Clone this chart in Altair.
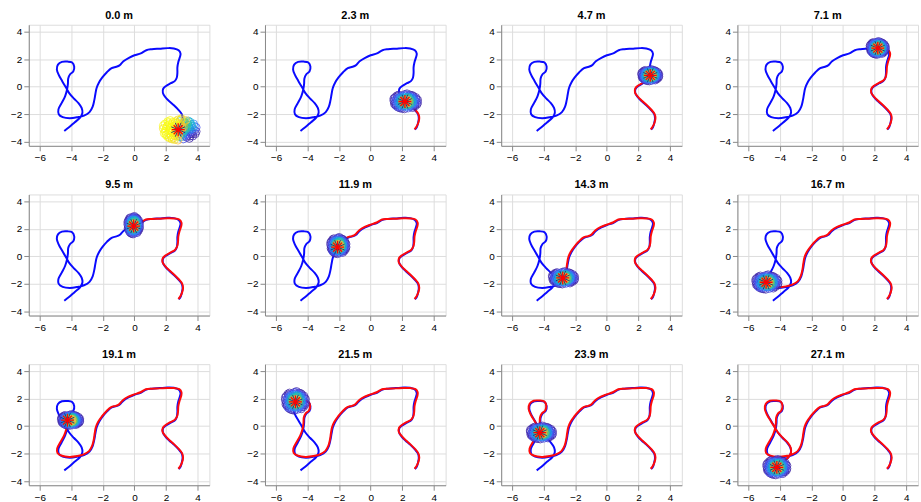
import altair as alt
import pandas as pd

# travelled distance shown above each panel
DIST = [0.0, 2.3, 4.7, 7.1, 9.5, 11.9, 14.3, 16.7, 19.1, 21.5, 23.9, 27.1]

# ground-truth trajectory (m)
TRUE_X = [2.80, 2.92, 3.00, 3.05, 3.00, 2.80, 2.50, 2.20, 1.95, 1.80, 1.82, 2.00, 2.30, 2.55,
          2.68, 2.72, 2.72, 2.78, 2.88, 2.92, 2.80, 2.50, 2.10, 1.60, 1.10, 0.75, 0.40, 0.00,
          -0.35, -0.70, -0.95, -1.15, -1.45, -1.75, -2.05, -2.25, -2.40, -2.48, -2.55, -2.65,
          -2.85, -3.20, -3.60, -4.10, -4.55, -4.80, -4.82, -4.62, -4.40, -4.28, -4.22, -4.20,
          -4.08, -3.88, -3.82, -3.95, -4.25, -4.60, -4.85, -4.92, -4.80, -4.58, -4.35, -4.15,
          -3.85, -3.55, -3.35, -3.30, -3.45, -3.80, -4.15, -4.45]
TRUE_Y = [-3.12, -2.95, -2.65, -2.30, -2.00, -1.70, -1.35, -1.05, -0.75, -0.45, -0.15, 0.05,
          0.25, 0.40, 0.65, 1.00, 1.40, 1.80, 2.15, 2.40, 2.65, 2.78, 2.80, 2.76, 2.72, 2.65,
          2.42, 2.28, 2.10, 1.85, 1.55, 1.45, 1.35, 1.05, 0.65, 0.30, -0.10, -0.55, -1.00,
          -1.45, -1.85, -2.10, -2.22, -2.30, -2.22, -2.00, -1.65, -1.20, -0.70, -0.25, 0.20,
          0.60, 0.90, 1.10, 1.45, 1.75, 1.82, 1.80, 1.60, 1.25, 0.85, 0.40, -0.05, -0.45,
          -0.85, -1.20, -1.55, -1.90, -2.25, -2.60, -2.95, -3.22]

# estimated trajectory (m)
EST_X = [2.78, 2.90, 3.02, 3.08, 3.02, 2.82, 2.52, 2.22, 1.96, 1.78, 1.80, 1.98, 2.28, 2.55,
         2.70, 2.76, 2.78, 2.86, 2.96, 2.98, 2.84, 2.50, 2.10, 1.60, 1.10, 0.72, 0.38, -0.02,
         -0.38, -0.72, -0.98, -1.18, -1.48, -1.78, -2.08, -2.30, -2.45, -2.52, -2.58, -2.68,
         -2.88, -3.22, -3.62, -4.12, -4.60, -4.88, -4.90, -4.70, -4.46, -4.32, -4.26, -4.24,
         -4.12, -3.92, -3.84, -3.96, -4.28, -4.64, -4.90, -4.96, -4.82, -4.58, -4.34, -4.12,
         -3.80, -3.50, -3.32, -3.30, -3.48, -3.82, -4.18]
EST_Y = [-3.10, -2.92, -2.62, -2.28, -1.98, -1.68, -1.33, -1.02, -0.72, -0.42, -0.12, 0.08,
         0.28, 0.45, 0.70, 1.05, 1.45, 1.85, 2.18, 2.45, 2.68, 2.76, 2.77, 2.74, 2.72, 2.68,
         2.46, 2.30, 2.14, 1.90, 1.58, 1.47, 1.38, 1.08, 0.68, 0.32, -0.08, -0.52, -0.98,
         -1.42, -1.82, -2.06, -2.18, -2.24, -2.16, -1.95, -1.62, -1.18, -0.68, -0.22, 0.22,
         0.62, 0.92, 1.12, 1.46, 1.78, 1.86, 1.84, 1.62, 1.24, 0.82, 0.36, -0.08, -0.48,
         -0.88, -1.22, -1.58, -1.92, -2.28, -2.62, -2.98]

# filter estimate (asterisk) for each panel
STAR_X = [2.77, 2.17, 2.75, 2.20, -0.05, -2.10, -2.80, -4.88, -4.25, -4.77, -4.25, -4.20]
STAR_Y = [-3.13, -1.08, 0.82, 2.80, 2.20, 0.67, -1.57, -1.88, 0.43, 1.76, -0.48, -3.00]

# particle cloud extent and shift per panel (m)
SPREAD_X = [1.10, 0.80, 0.58, 0.52, 0.40, 0.52, 0.75, 0.75, 0.62, 0.68, 0.75, 0.68]
SPREAD_Y = [0.85, 0.60, 0.46, 0.52, 0.70, 0.65, 0.50, 0.58, 0.44, 0.75, 0.52, 0.62]
SHIFT_X = [0.10, 0.05, 0.00, 0.00, 0.00, 0.05, 0.05, 0.05, 0.20, 0.00, 0.10, 0.00]
SHIFT_Y = [0.00, 0.00, 0.00, 0.00, 0.05, 0.10, 0.00, 0.00, 0.00, 0.05, 0.00, 0.00]

# particle layout (unit cloud) and weights
PART_DX = [0.00, 0.35, -0.30, 0.10, -0.15, 0.55, -0.60, 0.20, -0.45, 0.70, -0.75, 0.40, -0.35,
           0.85, -0.90, 0.05, -0.10, 0.60, -0.65, 0.75, -0.70, 0.25, -0.20, 0.45, -0.50, 0.15,
           -0.05, 0.30, -0.40, 0.95, -0.95, 0.10, 0.00, 0.50, -0.25, 0.65, -0.80, 0.35, -0.55,
           0.80, -0.30, 0.20, 0.90, -0.85, 0.15, -0.10, 0.40, -0.25, 0.05, 0.60, -0.65, 0.30,
           -0.15, 0.75, -0.45, 0.55, -0.70, 0.25, -0.35, 0.45,
           0.10, -0.35, 0.50, -0.55, 0.20, -0.20, 0.65, -0.60, 0.00, -0.05, 0.35, -0.45, 0.55,
           -0.30, 0.70, -0.80, 0.40, -0.10, 0.15, -0.60, 0.85, -0.85, 0.25, -0.25, 0.05, 0.45,
           -0.40, 0.60, -0.50, 0.30, 0.10, -0.15, 0.75, -0.75, 0.20, -0.30, 0.50, -0.70, 0.95,
           -0.95]
PART_DY = [0.00, 0.10, 0.20, -0.40, -0.25, -0.20, -0.10, 0.55, 0.45, 0.30, 0.25, -0.65, -0.70,
           -0.05, -0.30, 0.85, -0.90, 0.65, 0.60, -0.55, -0.60, 0.25, 0.40, -0.35, -0.45, -0.15,
           0.30, -0.05, 0.05, 0.20, 0.10, 0.95, -0.60, 0.40, 0.70, -0.35, -0.45, 0.80, 0.80,
           0.50, -0.50, -0.80, -0.35, 0.50, 0.15, -0.05, 0.25, -0.15, 0.50, 0.05, -0.25, -0.50,
           0.60, 0.10, -0.80, -0.75, 0.35, 0.70, 0.30, 0.60,
           0.35, -0.35, -0.05, 0.20, -0.30, 0.15, 0.45, -0.70, 0.70, -0.40, -0.25, -0.20, 0.20,
           0.55, -0.20, 0.05, 0.45, 0.85, -0.60, 0.45, 0.30, -0.15, 0.00, 0.00, 0.15, -0.50,
           0.65, -0.55, -0.60, 0.60, -0.20, -0.55, -0.35, -0.40, 0.40, -0.85, 0.75, 0.70, -0.15,
           0.35]
W_INIT = [0.95, 0.50, 1.00, 0.30, 0.90, 0.15, 1.00, 0.60, 0.95, 0.35, 1.00, 0.05, 0.90, 0.10,
          0.95, 0.85, 0.80, 0.40, 1.00, 0.02, 0.95, 0.60, 0.95, 0.10, 1.00, 0.45, 0.90, 0.35,
          1.00, 0.15, 0.90, 0.90, 0.50, 0.40, 0.90, 0.05, 0.95, 0.70, 0.95, 0.30, 0.85, 0.10,
          0.03, 1.00, 0.70, 0.90, 0.45, 0.95, 0.80, 0.20, 1.00, 0.08, 0.90, 0.20, 0.90, 0.03,
          1.00, 0.60, 1.00, 0.50,
          0.60, 0.95, 0.20, 1.00, 0.35, 0.90, 0.40, 0.90, 0.50, 0.70, 0.10, 1.00, 0.35, 0.95,
          0.05, 1.00, 0.45, 0.85, 0.20, 1.00, 0.25, 0.95, 0.40, 0.95, 0.75, 0.03, 0.95, 0.02,
          0.90, 0.50, 0.50, 0.85, 0.02, 1.00, 0.55, 0.90, 0.35, 1.00, 0.05, 1.00]
W_RUN = [0.60, 0.50, 0.50, 0.45, 0.55, 0.30, 0.25, 0.35, 0.20, 0.15, 0.12, 0.14, 0.14, 0.08,
         0.05, 0.08, 0.06, 0.04, 0.05, 0.03, 0.07, 0.55, 0.40, 0.25, 0.22, 0.65, 0.50, 0.45,
         0.35, 0.03, 0.03, 0.05, 0.30, 0.25, 0.16, 0.16, 0.06, 0.06, 0.03, 0.05, 0.27, 0.09,
         0.02, 0.03, 0.70, 0.65, 0.40, 0.50, 0.35, 0.27, 0.16, 0.20, 0.25, 0.12, 0.05, 0.03,
         0.09, 0.14, 0.40, 0.12,
         0.50, 0.35, 0.35, 0.25, 0.55, 0.60, 0.09, 0.03, 0.16, 0.50, 0.45, 0.35, 0.25, 0.20,
         0.14, 0.07, 0.25, 0.05, 0.22, 0.11, 0.03, 0.05, 0.65, 0.60, 0.75, 0.16, 0.09, 0.06,
         0.07, 0.16, 0.70, 0.27, 0.05, 0.05, 0.45, 0.03, 0.03, 0.02, 0.02, 0.02]

PARULA = ["#3e26a8", "#4750ef", "#2d87f7", "#12b1d6", "#37c897", "#abc739", "#fec338",
          "#f5e21a", "#f9fb15"]

X_DOM = [-6.7, 4.75]
Y_DOM = [-4.3, 4.5]
PANEL_W, PANEL_H = 182, 122

ASTERISK = "M-1,0L1,0M0,-1L0,1M-0.7,-0.7L0.7,0.7M-0.7,0.7L0.7,-0.7"

true_df = pd.DataFrame({"x": TRUE_X, "y": TRUE_Y, "i": list(range(len(TRUE_X)))})


def weight_color(w):
    return PARULA[int(round(w * (len(PARULA) - 1)))]


def enc_x():
    return alt.X("x:Q", scale=alt.Scale(domain=X_DOM, nice=False, zero=False),
                 axis=alt.Axis(values=[-6, -4, -2, 0, 2, 4], title=None))


def enc_y():
    return alt.Y("y:Q", scale=alt.Scale(domain=Y_DOM, nice=False, zero=False),
                 axis=alt.Axis(values=[-4, -2, 0, 2, 4], title=None))


panels = []
cut = 0
for k, d in enumerate(DIST):
    sx, sy = STAR_X[k], STAR_Y[k]
    # estimated path travelled so far: walk forward to the vertex closest to the estimate
    best, best_d = cut, None
    for j in range(cut, len(EST_X)):
        dd = (EST_X[j] - sx) ** 2 + (EST_Y[j] - sy) ** 2
        if best_d is None or dd < best_d:
            best, best_d = j, dd
    cut = best
    ex = EST_X[:cut + 1] + [sx]
    ey = EST_Y[:cut + 1] + [sy]
    est_df = pd.DataFrame({"x": ex, "y": ey, "i": list(range(len(ex)))})

    weights = W_INIT if k == 0 else W_RUN
    cx, cy = sx + SHIFT_X[k], sy + SHIFT_Y[k]
    part_df = pd.DataFrame({
        "x": [cx + dx * SPREAD_X[k] for dx in PART_DX],
        "y": [cy + dy * SPREAD_Y[k] for dy in PART_DY],
        "w": weights,
        "c": [weight_color(w) for w in weights],
    }).sort_values("w", kind="stable")

    star_df = pd.DataFrame({"x": [sx], "y": [sy]})

    blue = alt.Chart(true_df).mark_line(
        color="#0a0aff", strokeWidth=2, interpolate="catmull-rom", clip=True
    ).encode(x=enc_x(), y=enc_y(), order="i:Q")
    red = alt.Chart(est_df).mark_line(
        color="#ff0a0a", strokeWidth=2, interpolate="catmull-rom", clip=True
    ).encode(x=enc_x(), y=enc_y(), order="i:Q")
    cloud = alt.Chart(part_df).mark_point(
        shape="circle", filled=False, size=60, strokeWidth=0.8, opacity=0.95, clip=True
    ).encode(x=enc_x(), y=enc_y(), stroke=alt.Stroke("c:N", scale=None))
    star_dark = alt.Chart(star_df).mark_point(
        shape=ASTERISK, filled=False, size=230, strokeWidth=0.8, stroke="#20207a",
        angle=22.5, opacity=1
    ).encode(x=enc_x(), y=enc_y())
    star_red = alt.Chart(star_df).mark_point(
        shape=ASTERISK, filled=False, size=170, strokeWidth=1.3, stroke="#ff0000", opacity=1
    ).encode(x=enc_x(), y=enc_y())

    panels.append(
        alt.layer(blue, red, cloud, star_dark, star_red).properties(
            width=PANEL_W, height=PANEL_H,
            title=alt.TitleParams(f"{d:.1f} m", fontSize=11, fontWeight="bold",
                                  font="Liberation Sans", color="#000000", offset=4,
                                  anchor="middle"),
        )
    )

chart = alt.concat(
    *panels, columns=4, spacing={"row": 49, "column": 56}, bounds="flush"
).properties(
    padding={"left": 10, "top": 7, "right": 2, "bottom": 2}
).configure_view(
    stroke="#666666", strokeWidth=1
).configure_axis(
    domain=False, ticks=False, grid=True, gridColor="#dfdfdf", gridWidth=1,
    labelFont="Liberation Sans", labelFontSize=9.5, labelColor="#333333", labelPadding=4
).configure(background="#ffffff")

chart.save("out.html", embed_options={"renderer": "svg", "actions": False})
